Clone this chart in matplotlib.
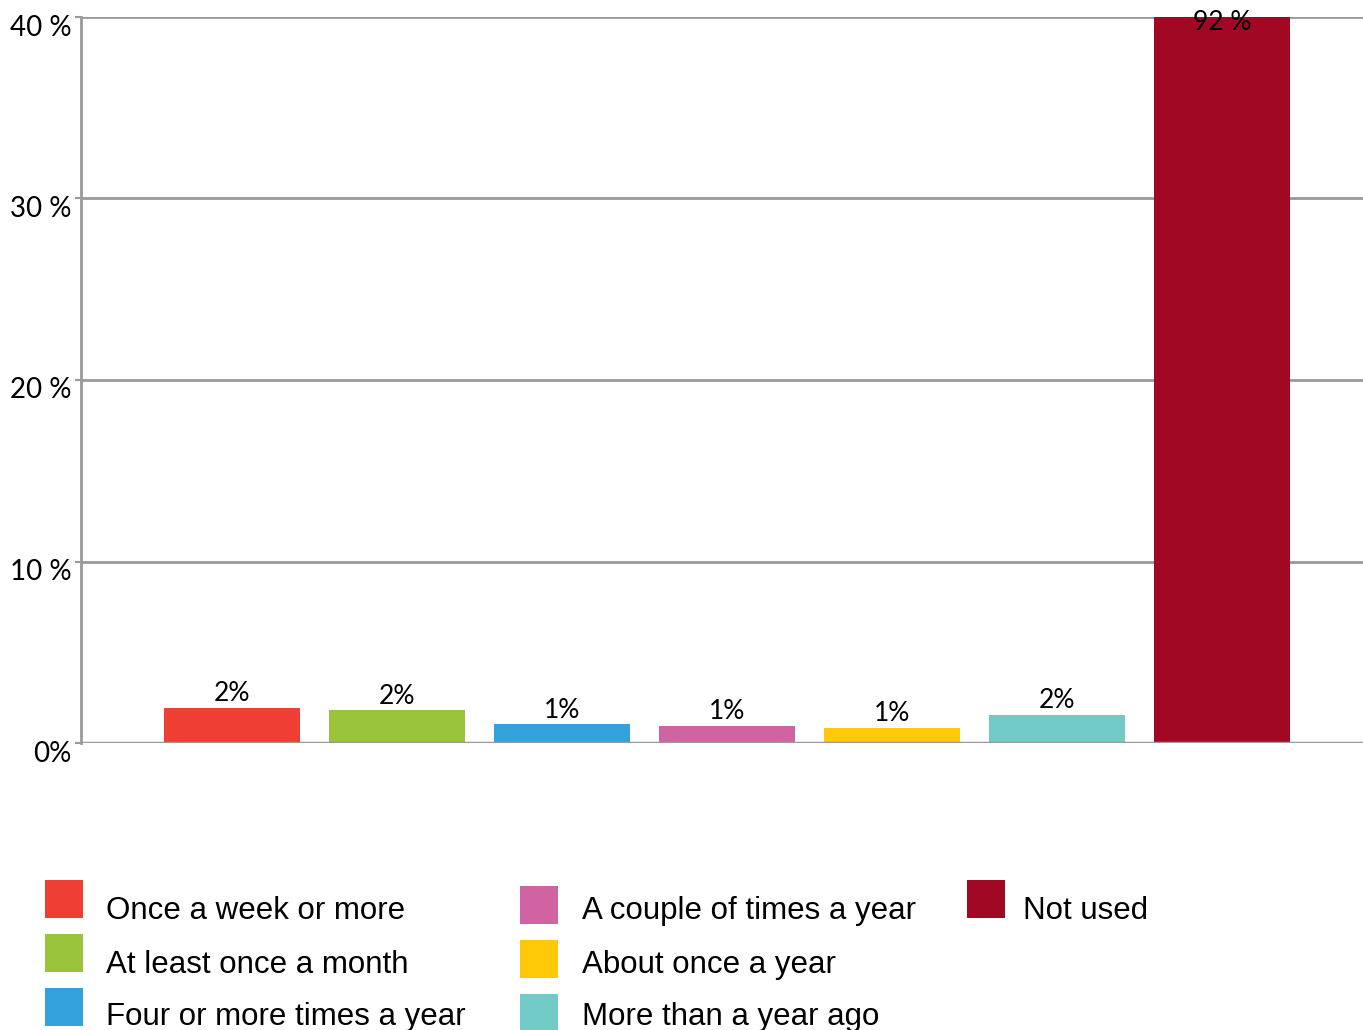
"""Bar chart of how often the service is used, with a clipped y axis and a boxed legend below."""
import matplotlib
matplotlib.use("Agg")
import matplotlib.pyplot as plt
import matplotlib.transforms as mtransforms
from matplotlib.patches import Rectangle

categories = [
    "Once a week or more",
    "At least once a month",
    "Four or more times a year",
    "A couple of times a year",
    "About once a year",
    "More than a year ago",
    "Not used",
]
shares = [1.95, 1.8, 1.05, 0.95, 0.85, 1.55, 92.0]
colors = ["#EF3E33", "#9AC43C", "#33A2DC", "#D063A2", "#FFC907", "#71CAC6", "#A10824"]
y_ticks = [0, 10, 20, 30, 40]
y_ticklabels = ["0%", "10 %", "20 %", "30 %", "40 %"]

W, H = 1363, 1030
GRID = "#999999"

fig = plt.figure(figsize=(W / 100, H / 100), dpi=100)
ax = fig.add_axes([81 / W, 1 - 743 / H, 1 - 81 / W, (743 - 17) / H])

x = range(len(categories))
bars = ax.bar(x, shares, width=0.82, color=colors, zorder=2)

ax.set_ylim(0, 40)
ax.set_xlim(-0.915, 6.855)
ax.set_yticks(y_ticks)
ax.set_yticklabels(y_ticklabels, family="Lato", fontsize=20)
ax.set_xticks([])
ax.tick_params(axis="y", length=4, width=1.5, color=GRID, pad=3)
# tick labels sit a little below their gridlines
shift = mtransforms.ScaledTranslation(0, -8 / 100, fig.dpi_scale_trans)
for lab in ax.get_yticklabels():
    lab.set_transform(lab.get_transform() + shift)

# horizontal gridlines sit behind the bars, the baseline goes over them
for t in y_ticks[1:]:
    ax.axhline(t, color=GRID, lw=2, zorder=1)
ax.axhline(0, color=GRID, lw=2.5, zorder=3)

for side in ["top", "right", "bottom"]:
    ax.spines[side].set_visible(False)
ax.spines["left"].set_color(GRID)
ax.spines["left"].set_linewidth(2)

ymax = ax.get_ylim()[1]
for rect, v in zip(bars, shares):
    cx = rect.get_x() + rect.get_width() / 2
    label = f"{v:.0f}%" if v < 10 else f"{v:.0f} %"
    if v > ymax:
        ax.annotate(label, (cx, ymax), xytext=(0, -4), textcoords="offset points",
                    ha="center", va="center", family="Lato", fontsize=19,
                    zorder=4, annotation_clip=False)
    else:
        ax.annotate(label, (cx, v), xytext=(0, 1), textcoords="offset points",
                    ha="center", va="bottom", family="Lato", fontsize=19, zorder=4)

# legend laid out in three columns under the plot
col_x = [45, 520, 967]
col_text = [106, 582, 1023]
col_top = [880, 886, 880]
row_text = [911, 965, 1017]
row_step = 54
box = 38
for i, (name, c) in enumerate(zip(categories, colors)):
    col, row = divmod(i, 3)
    top = col_top[col] + row * row_step
    fig.add_artist(Rectangle((col_x[col] / W, 1 - (top + box) / H), box / W, box / H,
                             transform=fig.transFigure, facecolor=c, edgecolor="none"))
    fig.text(col_text[col] / W, 1 - row_text[row] / H, name,
             family="Liberation Sans", fontsize=22.5, va="center", ha="left")

fig.savefig("out.png", dpi=100)
